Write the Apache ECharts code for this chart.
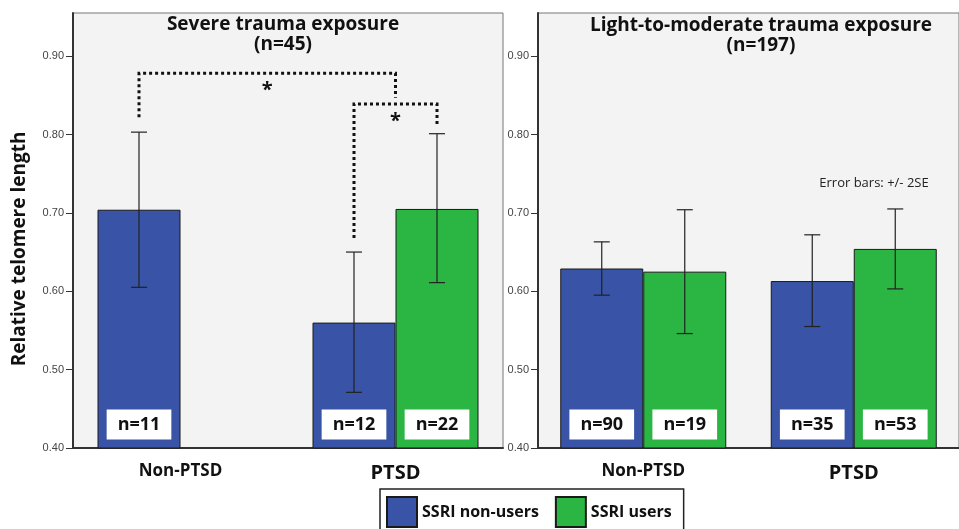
<!DOCTYPE html>
<html>
<head>
<meta charset="utf-8">
<script src="https://cdn.jsdelivr.net/npm/echarts@6/dist/echarts.min.js"></script>
<style>
  html, body { margin: 0; padding: 0; background: #fff; }
  #chart { width: 959px; height: 529px; }
</style>
</head>
<body>
<div id="chart"></div>
<script>
// categories and ticks
var categories = ["Non-PTSD", "PTSD"];
var yTicks = [0.4, 0.5, 0.6, 0.7, 0.8, 0.9];

// severe trauma exposure (n=45)
var severeNonUsers = [0.704, 0.560];
var severeUsers = ["-", 0.705];
var severeNonUsersErr = [[0.605, 0.803], [0.471, 0.650]];
var severeUsersErr = [null, [0.611, 0.801]];
var severeNonUsersN = [11, 12];
var severeUsersN = [null, 22];

// light-to-moderate trauma exposure (n=197)
var lightNonUsers = [0.629, 0.613];
var lightUsers = [0.625, 0.654];
var lightNonUsersErr = [[0.595, 0.663], [0.555, 0.672]];
var lightUsersErr = [[0.546, 0.704], [0.603, 0.705]];
var lightNonUsersN = [90, 35];
var lightUsersN = [19, 53];

// significance brackets: [leftCat, leftSlot, leftEnd, rightCat, rightSlot, rightEnd, level]
var brackets = [
    [0, -1, 0.822, 1, 0, 0.847, 0.878],
    [1, -1, 0.668, 1, 1, 0.811, 0.839]
];

var BLUE = "#3953a6", GREEN = "#2bb543";
var BAR_W = 83;
var FONT = "'Open Sans', 'Noto Sans', sans-serif";

function errData(lo, hi) {
    var out = [];
    lo.forEach(function (e, i) { if (e) out.push([i, -1, e[0], e[1]]); });
    hi.forEach(function (e, i) { if (e) out.push([i, 1, e[0], e[1]]); });
    return out;
}

function errRender(params, api) {
    var cat = api.value(0), slot = api.value(1);
    var lo = api.coord([cat, api.value(2)]);
    var hi = api.coord([cat, api.value(3)]);
    var x = lo[0] + slot * BAR_W / 2;
    var st = { stroke: "#222", lineWidth: 1.2 };
    return {
        type: "group",
        children: [
            { type: "line", shape: { x1: x, y1: hi[1], x2: x, y2: lo[1] }, style: st },
            { type: "line", shape: { x1: x - 8, y1: hi[1], x2: x + 8, y2: hi[1] }, style: st },
            { type: "line", shape: { x1: x - 8, y1: lo[1], x2: x + 8, y2: lo[1] }, style: st }
        ]
    };
}

function bracketRender(params, api) {
    var l = api.coord([api.value(0), api.value(2)]);
    var lt = api.coord([api.value(0), api.value(6)]);
    var r = api.coord([api.value(3), api.value(5)]);
    var rt = api.coord([api.value(3), api.value(6)]);
    var xl = l[0] + api.value(1) * BAR_W / 2;
    var xr = r[0] + api.value(4) * BAR_W / 2;
    return {
        type: "group",
        children: [
            {
                type: "polyline",
                shape: { points: [[xl, l[1]], [xl, lt[1]], [xr, rt[1]], [xr, r[1]]] },
                style: { stroke: "#111", lineWidth: 3, lineDash: [3, 3], fill: null }
            },
            {
                type: "text",
                style: { x: (xl + xr) / 2, y: lt[1] + 17, text: "*", fill: "#111", font: "bold 20px " + FONT, align: "center", verticalAlign: "middle" }
            }
        ]
    };
}

function nLabel(arr) {
    return {
        show: true,
        position: "insideBottom",
        distance: 9,
        formatter: function (p) { return arr[p.dataIndex] == null ? "" : "n=" + arr[p.dataIndex]; },
        backgroundColor: "#fff",
        padding: [5, 11, 5, 11],
        color: "#111",
        fontSize: 18,
        lineHeight: 20,
        fontWeight: "bold",
        fontFamily: FONT
    };
}

function barSeries(name, color, xi, data, n) {
    return {
        name: name,
        type: "bar",
        xAxisIndex: xi,
        yAxisIndex: xi,
        barWidth: BAR_W,
        barGap: "0%",
        itemStyle: { color: color, borderColor: "#1a1a1a", borderWidth: 1 },
        label: nLabel(n),
        data: data
    };
}

function xAxisFor(gi) {
    return {
        type: "category",
        gridIndex: gi,
        data: categories,
        axisLine: { lineStyle: { color: "#333", width: 2 } },
        axisTick: { alignWithLabel: true, length: 8, lineStyle: { color: "#333", width: 1.5 } },
        axisLabel: {
            margin: 15,
            formatter: function (v) { return v === "PTSD" ? "{b|" + v + "}" : "{a|" + v + "}"; },
            rich: {
                a: { fontSize: 17, fontWeight: "bold", color: "#111", fontFamily: FONT },
                b: { fontSize: 20, fontWeight: "bold", color: "#111", fontFamily: FONT }
            }
        }
    };
}

function yAxisFor(gi) {
    return {
        type: "value",
        gridIndex: gi,
        min: 0.4,
        max: 0.955,
        splitLine: { show: false },
        axisLine: { show: true, lineStyle: { color: "#333", width: 2 } },
        axisTick: { show: true, length: 7, customValues: yTicks, lineStyle: { color: "#333" } },
        axisLabel: {
            customValues: yTicks,
            margin: 9,
            fontSize: 11,
            color: "#444",
            fontFamily: "'Liberation Sans', Arial, sans-serif",
            formatter: function (v) { return v.toFixed(2); }
        }
    };
}

var chart = echarts.init(document.getElementById("chart"));
var option = {
    animation: false,
    backgroundColor: "#fff",
    title: [
        {
            text: "Severe trauma exposure\n(n=45)",
            left: 278, top: 10, textAlign: "center",
            textStyle: { fontSize: 19, fontWeight: "bold", color: "#111", lineHeight: 20, fontFamily: FONT }
        },
        {
            text: "Light-to-moderate trauma exposure\n(n=197)",
            left: 756, top: 11, textAlign: "center",
            textStyle: { fontSize: 19, fontWeight: "bold", color: "#111", lineHeight: 20, fontFamily: FONT }
        }
    ],
    legend: {
        left: 380, top: 489,
        data: ["SSRI non-users", "SSRI users"],
        icon: "rect",
        itemWidth: 30, itemHeight: 30, itemGap: 16,
        borderColor: "#222", borderWidth: 1.5,
        padding: [7, 12, 20, 6],
        textStyle: { fontSize: 16, fontWeight: "bold", color: "#111", fontFamily: FONT }
    },
    grid: [
        { left: 73, top: 13, width: 430, height: 435, show: true, backgroundColor: "#f3f3f3", borderColor: "#777", borderWidth: 1 },
        { left: 538, top: 13, width: 430, height: 435, show: true, backgroundColor: "#f3f3f3", borderColor: "#777", borderWidth: 1 }
    ],
    xAxis: [xAxisFor(0), xAxisFor(1)],
    yAxis: [yAxisFor(0), yAxisFor(1)],
    graphic: [
        {
            type: "text", x: 20, y: 249, rotation: Math.PI / 2,
            style: { text: "Relative telomere length", font: "bold 19px " + FONT, fill: "#111", align: "center", verticalAlign: "middle" }
        },
        {
            type: "text", x: 874, y: 183,
            style: { text: "Error bars: +/- 2SE", font: "13px " + FONT, fill: "#222", align: "center", verticalAlign: "middle" }
        }
    ],
    series: [
        barSeries("SSRI non-users", BLUE, 0, severeNonUsers, severeNonUsersN),
        barSeries("SSRI users", GREEN, 0, severeUsers, severeUsersN),
        barSeries("SSRI non-users", BLUE, 1, lightNonUsers, lightNonUsersN),
        barSeries("SSRI users", GREEN, 1, lightUsers, lightUsersN),
        { type: "custom", xAxisIndex: 0, yAxisIndex: 0, renderItem: errRender, data: errData(severeNonUsersErr, severeUsersErr), z: 5 },
        { type: "custom", xAxisIndex: 1, yAxisIndex: 1, renderItem: errRender, data: errData(lightNonUsersErr, lightUsersErr), z: 5 },
        { type: "custom", xAxisIndex: 0, yAxisIndex: 0, renderItem: bracketRender, data: brackets, clip: false, z: 6 }
    ]
};
chart.setOption(option);
window.addEventListener("resize", function () { chart.resize(); });
</script>
</body>
</html>
